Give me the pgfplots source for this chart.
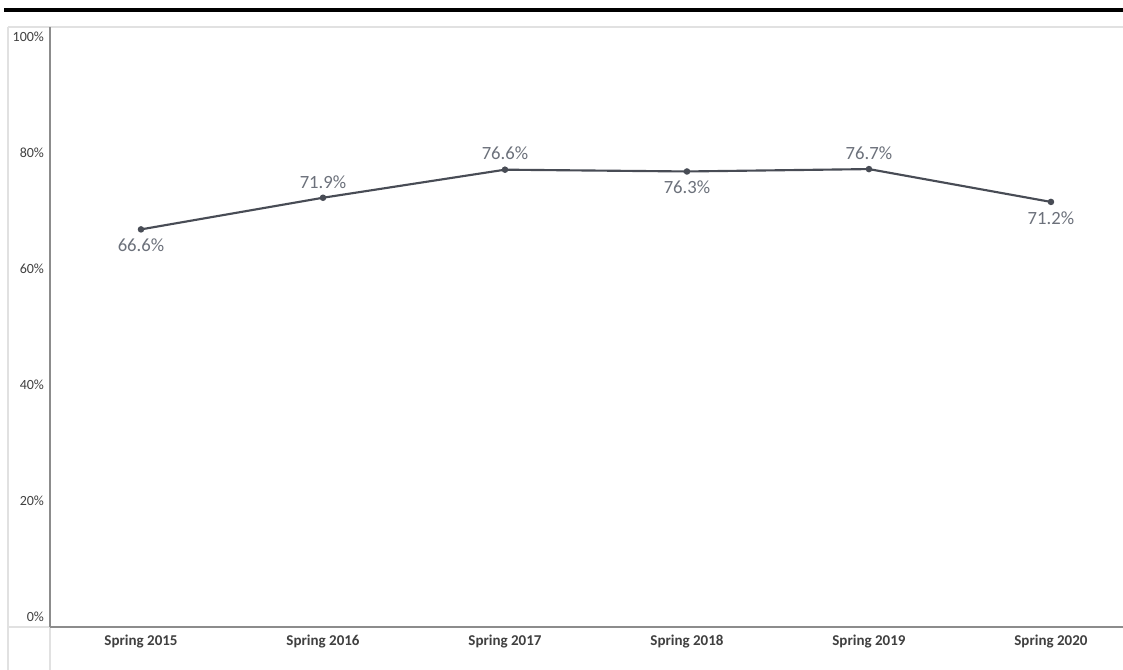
\documentclass[border=0pt]{standalone}
\usepackage{fontspec}
\setmainfont{Carlito}
\usepackage{pgfplots}
\pgfplotsset{compat=1.18}
\definecolor{linec}{RGB}{72,76,85}
\definecolor{lblc}{RGB}{108,113,123}
\definecolor{axc}{RGB}{140,140,140}
\definecolor{gridc}{RGB}{225,225,225}
\definecolor{tickc}{RGB}{64,64,64}
\begin{document}
\begin{tikzpicture}
\useasboundingbox (0pt,0pt) rectangle (842.25pt,502.5pt);
\fill[white] (0pt,0pt) rectangle (842.25pt,502.5pt);
% top thick rule
\draw[black, line width=3.6pt] (3pt,495pt) -- (842.25pt,495pt);
% light cell lines
\draw[gridc, line width=1.5pt] (6pt,482.25pt) -- (842.25pt,482.25pt);
\draw[gridc, line width=1.2pt] (6pt,0pt) -- (6pt,482.25pt);
\draw[gridc, line width=1.2pt] (37.5pt,0pt) -- (37.5pt,32.25pt);
\draw[gridc, line width=1.2pt] (6pt,32.25pt) -- (37.5pt,32.25pt);
\begin{axis}[
  at={(37.5pt,32.25pt)}, anchor=south west,
  scale only axis,
  width=804.75pt, height=450pt,
  xmin=-0.5, xmax=5.396,
  ymin=0, ymax=1.005,
  axis x line=bottom, axis y line=left,
  axis line style={-},
  x axis line style={draw=axc, line width=1.5pt},
  y axis line style={draw=axc, line width=1.5pt},
  major tick length=0pt,
  xtick={0,1,2,3,4,5},
  xticklabels={Spring 2015,Spring 2016,Spring 2017,Spring 2018,Spring 2019,Spring 2020},
  xticklabel style={font=\fontsize{11.25}{13}\selectfont\bfseries, text=tickc, anchor=center, yshift=-11.25pt},
  ytick={0.0168,0.211,0.405,0.600,0.794,0.988},
  yticklabels={0\%,20\%,40\%,60\%,80\%,100\%},
  yticklabel style={font=\fontsize{10.5}{12}\selectfont, text=tickc, anchor=east, xshift=-1pt},
  clip=false,
]
\addplot[color=linec, line width=1.6pt, mark=*, mark size=1.6pt, mark options={fill=linec}]
  coordinates {(0,0.666) (1,0.719) (2,0.766) (3,0.763) (4,0.767) (5,0.712)};
% labels above
\addplot[draw=none, mark=none, point meta=explicit symbolic,
  nodes near coords,
  every node near coord/.append style={anchor=center, yshift=12pt, text=lblc, font=\fontsize{14}{16}\selectfont}]
  coordinates {(1,0.719)[71.9\%] (2,0.766)[76.6\%] (4,0.767)[76.7\%]};
% labels below
\addplot[draw=none, mark=none, point meta=explicit symbolic,
  nodes near coords,
  every node near coord/.append style={anchor=center, yshift=-12pt, text=lblc, font=\fontsize{14}{16}\selectfont}]
  coordinates {(0,0.666)[66.6\%] (3,0.763)[76.3\%] (5,0.712)[71.2\%]};
\end{axis}
\end{tikzpicture}
\end{document}
